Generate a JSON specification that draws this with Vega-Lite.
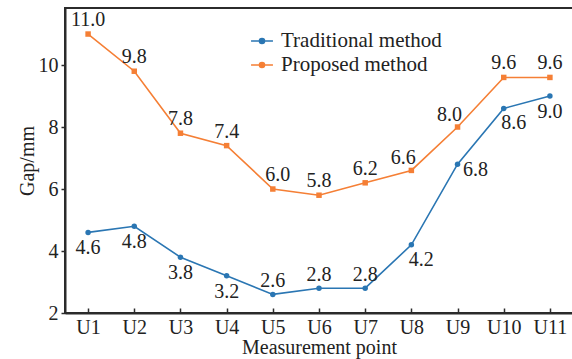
{
  "$schema": "https://vega.github.io/schema/vega-lite/v6.json",
  "autosize": "none",
  "width": 508,
  "height": 305,
  "padding": {"left": 65, "top": 8, "right": 0, "bottom": 46},
  "background": "white",
  "config": {
    "font": "Liberation Serif",
    "view": {"stroke": "#2b2b2b", "strokeWidth": 2},
    "axis": {
      "domainColor": "#2b2b2b",
      "domainWidth": 2,
      "tickColor": "#2b2b2b",
      "tickWidth": 1.5,
      "labelFont": "Liberation Serif",
      "labelFontSize": 20,
      "labelColor": "#222",
      "titleFont": "Liberation Serif",
      "titleFontSize": 20,
      "titleFontWeight": "normal",
      "titleColor": "#222",
      "grid": false
    },
    "legend": {
      "labelFont": "Liberation Serif",
      "labelFontSize": 21,
      "labelColor": "#222",
      "labelLimit": 400
    }
  },
  "data": {
    "values": [
      {"point": "U1", "method": "Traditional method", "gap": 4.6},
      {"point": "U2", "method": "Traditional method", "gap": 4.8},
      {"point": "U3", "method": "Traditional method", "gap": 3.8},
      {"point": "U4", "method": "Traditional method", "gap": 3.2},
      {"point": "U5", "method": "Traditional method", "gap": 2.6},
      {"point": "U6", "method": "Traditional method", "gap": 2.8},
      {"point": "U7", "method": "Traditional method", "gap": 2.8},
      {"point": "U8", "method": "Traditional method", "gap": 4.2},
      {"point": "U9", "method": "Traditional method", "gap": 6.8},
      {"point": "U10", "method": "Traditional method", "gap": 8.6},
      {"point": "U11", "method": "Traditional method", "gap": 9.0},
      {"point": "U1", "method": "Proposed method", "gap": 11.0},
      {"point": "U2", "method": "Proposed method", "gap": 9.8},
      {"point": "U3", "method": "Proposed method", "gap": 7.8},
      {"point": "U4", "method": "Proposed method", "gap": 7.4},
      {"point": "U5", "method": "Proposed method", "gap": 6.0},
      {"point": "U6", "method": "Proposed method", "gap": 5.8},
      {"point": "U7", "method": "Proposed method", "gap": 6.2},
      {"point": "U8", "method": "Proposed method", "gap": 6.6},
      {"point": "U9", "method": "Proposed method", "gap": 8.0},
      {"point": "U10", "method": "Proposed method", "gap": 9.6},
      {"point": "U11", "method": "Proposed method", "gap": 9.6}
    ]
  },
  "encoding": {
    "x": {
      "field": "point",
      "type": "ordinal",
      "sort": null,
      "scale": {"type": "point", "padding": 0.5},
      "axis": {
        "title": "Measurement point",
        "labelAngle": 0,
        "tickSize": -5,
        "labelPadding": 9,
        "titlePadding": 0
      }
    },
    "y": {
      "field": "gap",
      "type": "quantitative",
      "scale": {"domain": [2, 11.84], "nice": false, "zero": false},
      "axis": {
        "title": "Gap/mm",
        "values": [2, 4, 6, 8, 10],
        "tickSize": 4,
        "labelPadding": 3,
        "titlePadding": 1
      }
    }
  },
  "layer": [
    {
      "mark": {"type": "line", "strokeWidth": 1.6},
      "encoding": {
        "color": {
          "field": "method",
          "type": "nominal",
          "sort": ["Traditional method", "Proposed method"],
          "scale": {"domain": ["Traditional method", "Proposed method"], "range": ["#2a76b3", "#f57f35"]},
          "legend": {
            "title": null,
            "orient": "none",
            "legendX": 185,
            "legendY": 21,
            "symbolType": "M-1,0H1M-0.23,0A0.23,0.23 0 1,0 0.23,0A0.23,0.23 0 1,0 -0.23,0",
            "symbolSize": 480,
            "symbolStrokeWidth": 1.6,
            "rowPadding": 2,
            "labelOffset": 7
          }
        }
      }
    },
    {
      "mark": {"type": "point", "filled": true, "opacity": 1, "size": 30},
      "encoding": {
        "color": {"field": "method", "type": "nominal", "legend": null},
        "shape": {"condition": {"test": "datum.method === 'Proposed method'", "value": "square"}, "value": "circle"}
      }
    },
    {
      "transform": [{"filter": "datum.method === 'Proposed method' && indexof(['U5','U8','U9'], datum.point) < 0"}],
      "mark": {"type": "text", "font": "Liberation Serif", "fontSize": 20, "color": "#222", "baseline": "middle", "dy": -14},
      "encoding": {"text": {"field": "gap", "type": "quantitative", "format": ".1f"}}
    },
    {
      "transform": [{"filter": "datum.method === 'Proposed method' && datum.point === 'U5'"}],
      "mark": {"type": "text", "font": "Liberation Serif", "fontSize": 20, "color": "#222", "baseline": "middle", "dx": 5, "dy": -14},
      "encoding": {"text": {"field": "gap", "type": "quantitative", "format": ".1f"}}
    },
    {
      "transform": [{"filter": "datum.method === 'Proposed method' && indexof(['U8','U9'], datum.point) >= 0"}],
      "mark": {"type": "text", "font": "Liberation Serif", "fontSize": 20, "color": "#222", "baseline": "middle", "dx": -8, "dy": -12},
      "encoding": {"text": {"field": "gap", "type": "quantitative", "format": ".1f"}}
    },
    {
      "transform": [{"filter": "datum.method === 'Traditional method' && indexof(['U1','U2','U3','U4','U11'], datum.point) >= 0"}],
      "mark": {"type": "text", "font": "Liberation Serif", "fontSize": 20, "color": "#222", "baseline": "middle", "dy": 16},
      "encoding": {"text": {"field": "gap", "type": "quantitative", "format": ".1f"}}
    },
    {
      "transform": [{"filter": "datum.method === 'Traditional method' && indexof(['U8','U10'], datum.point) >= 0"}],
      "mark": {"type": "text", "font": "Liberation Serif", "fontSize": 20, "color": "#222", "baseline": "middle", "dx": 10, "dy": 15},
      "encoding": {"text": {"field": "gap", "type": "quantitative", "format": ".1f"}}
    },
    {
      "transform": [{"filter": "datum.method === 'Traditional method' && indexof(['U5','U6','U7'], datum.point) >= 0"}],
      "mark": {"type": "text", "font": "Liberation Serif", "fontSize": 20, "color": "#222", "baseline": "middle", "dy": -13},
      "encoding": {"text": {"field": "gap", "type": "quantitative", "format": ".1f"}}
    },
    {
      "transform": [{"filter": "datum.method === 'Traditional method' && datum.point === 'U9'"}],
      "mark": {"type": "text", "font": "Liberation Serif", "fontSize": 20, "color": "#222", "baseline": "middle", "dx": 18, "dy": 6},
      "encoding": {"text": {"field": "gap", "type": "quantitative", "format": ".1f"}}
    }
  ]
}
